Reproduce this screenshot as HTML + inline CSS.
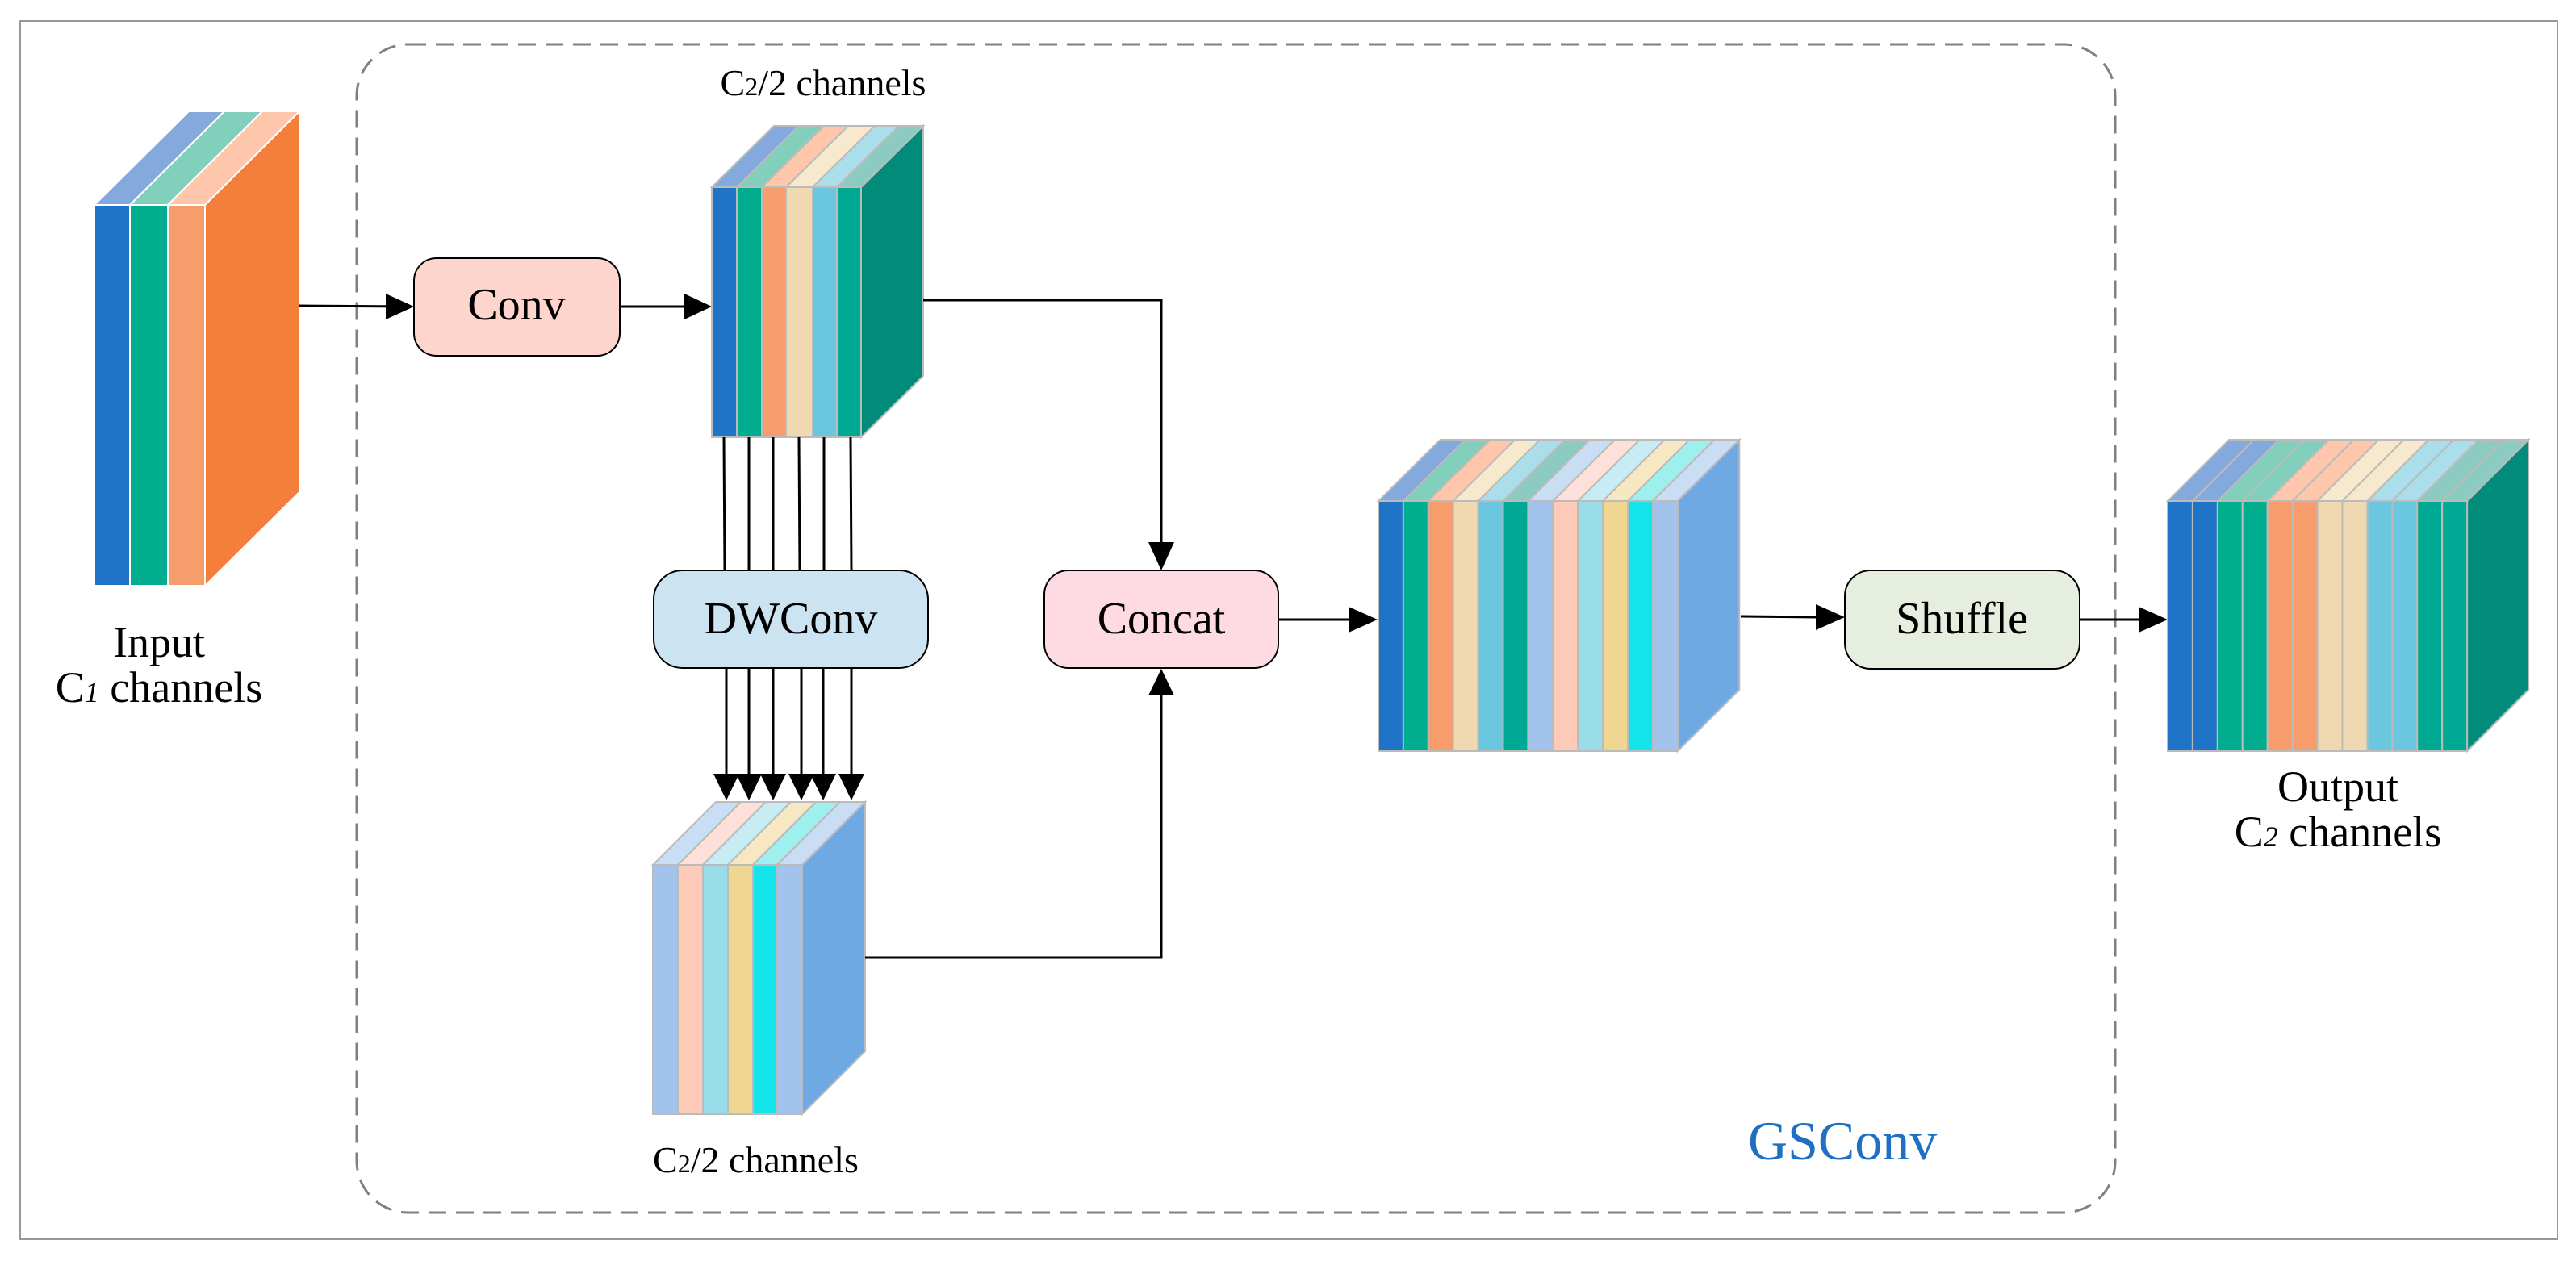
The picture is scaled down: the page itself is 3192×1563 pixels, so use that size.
<!DOCTYPE html>
<html><head><meta charset="utf-8"><style>
html,body{margin:0;padding:0;background:#fff}
svg{display:block}
svg text{font-family:"Liberation Serif","Times New Roman",serif !important;fill:#000}
</style></head><body>
<svg width="3192" height="1563" viewBox="0 0 3192 1563" xmlns="http://www.w3.org/2000/svg" font-family="Liberation Serif, serif">
<rect x="25" y="26" width="3144" height="1510" fill="none" stroke="#999" stroke-width="2"/>
<rect x="442" y="55" width="2179" height="1448" rx="64" fill="none" stroke="#808080" stroke-width="3" stroke-dasharray="22,12"/>

<!-- Input block -->
<g stroke="#fff" stroke-width="2">
<polygon points="254,254 371,138 371,610 254,726" fill="#f47f3a"/>
<polygon points="117,254 161,254 278,138 234,138" fill="#84a9dd"/>
<polygon points="161,254 208,254 325,138 278,138" fill="#82cfbb"/>
<polygon points="208,254 254,254 371,138 325,138" fill="#fec6ab"/>
<rect x="117" y="254" width="44" height="472" fill="#1f74c7"/>
<rect x="161" y="254" width="47" height="472" fill="#00ae8f"/>
<rect x="208" y="254" width="46" height="472" fill="#f79d6b"/>
</g>
<text x="197" y="814" font-size="54" text-anchor="middle" font-family="Liberation Serif, serif">Input</text>
<text x="197" y="870" font-size="54" text-anchor="middle" font-family="Liberation Serif, serif">C<tspan font-size="36" font-style="italic">1</tspan> channels</text>

<!-- Conv -->
<line x1="371" y1="379" x2="511" y2="380" stroke="#000" stroke-width="3"/>
<path d="M478,364 L513,380 L478,396 z"/>
<rect x="513" y="320" width="255" height="121" rx="28" fill="#fdd5cc" stroke="#000" stroke-width="2"/>
<text x="640" y="396" font-size="56" text-anchor="middle" font-family="Liberation Serif, serif">Conv</text>
<line x1="768" y1="380" x2="850" y2="380" stroke="#000" stroke-width="3"/>
<path d="M848,364 L882,380 L848,396 z"/>

<!-- Block2 -->
<text x="1020" y="118" font-size="46" text-anchor="middle" font-family="Liberation Serif, serif">C<tspan font-size="32">2</tspan>/2 channels</text>
<g stroke="#bbb" stroke-width="2">
<polygon points="1067,232 1144,156 1144,466 1067,542" fill="#008b7a"/>
<polygon points="882,232 913,232 990,156 959,156" fill="#84a9dd"/>
<polygon points="913,232 944,232 1021,156 990,156" fill="#82cfbb"/>
<polygon points="944,232 974,232 1051,156 1021,156" fill="#fec6ab"/>
<polygon points="974,232 1007,232 1084,156 1051,156" fill="#f6e9cd"/>
<polygon points="1007,232 1037,232 1114,156 1084,156" fill="#aadeea"/>
<polygon points="1037,232 1067,232 1144,156 1114,156" fill="#8ccbbf"/>
<rect x="882" y="232" width="31" height="310" fill="#1f74c7"/>
<rect x="913" y="232" width="31" height="310" fill="#00ae8f"/>
<rect x="944" y="232" width="30" height="310" fill="#f79d6b"/>
<rect x="974" y="232" width="33" height="310" fill="#f0d9b0"/>
<rect x="1007" y="232" width="30" height="310" fill="#6bc7df"/>
<rect x="1037" y="232" width="30" height="310" fill="#00a993"/>
</g>
<polyline points="1144,372 1439,372 1439,675" fill="none" stroke="#000" stroke-width="3"/>
<path d="M1423,672 L1439,707 L1455,672 z"/>

<!-- DWConv lines -->
<g stroke="#000" stroke-width="3">
<line x1="897" y1="542" x2="898" y2="707"/><line x1="928" y1="542" x2="928" y2="707"/>
<line x1="958" y1="542" x2="958" y2="707"/><line x1="990" y1="542" x2="991" y2="707"/>
<line x1="1021" y1="542" x2="1021" y2="707"/><line x1="1054" y1="542" x2="1055" y2="707"/>
<line x1="900" y1="828" x2="900" y2="962"/><line x1="928" y1="828" x2="928" y2="962"/>
<line x1="958" y1="828" x2="958" y2="962"/><line x1="993" y1="828" x2="993" y2="962"/>
<line x1="1020" y1="828" x2="1020" y2="962"/><line x1="1055" y1="828" x2="1055" y2="962"/>
</g>
<g>
<path d="M884,959 L900,992 L916,959 z"/><path d="M912,959 L928,992 L944,959 z"/>
<path d="M942,959 L958,992 L974,959 z"/><path d="M977,959 L993,992 L1009,959 z"/>
<path d="M1004,959 L1020,992 L1036,959 z"/><path d="M1039,959 L1055,992 L1071,959 z"/>
</g>
<rect x="810" y="707" width="340" height="121" rx="36" fill="#cce4f1" stroke="#000" stroke-width="2"/>
<text x="980" y="785" font-size="56" text-anchor="middle" font-family="Liberation Serif, serif">DWConv</text>

<!-- Block3 -->
<g stroke="#bbb" stroke-width="2">
<polygon points="994,1072 1072,994 1072,1303 994,1381" fill="#6fa9e4"/>
<polygon points="809,1072 840,1072 918,994 887,994" fill="#c9ddf3"/>
<polygon points="840,1072 871,1072 949,994 918,994" fill="#fee0da"/>
<polygon points="871,1072 902,1072 980,994 949,994" fill="#c7ecf3"/>
<polygon points="902,1072 933,1072 1011,994 980,994" fill="#f7e8c4"/>
<polygon points="933,1072 963,1072 1041,994 1011,994" fill="#9ef0ee"/>
<polygon points="963,1072 994,1072 1072,994 1041,994" fill="#c9ddf3"/>
<rect x="809" y="1072" width="31" height="309" fill="#a2c4ec"/>
<rect x="840" y="1072" width="31" height="309" fill="#fecbb8"/>
<rect x="871" y="1072" width="31" height="309" fill="#99dde9"/>
<rect x="902" y="1072" width="31" height="309" fill="#efd791"/>
<rect x="933" y="1072" width="30" height="309" fill="#13e3ea"/>
<rect x="963" y="1072" width="31" height="309" fill="#a2c4ec"/>
</g>
<text x="809" y="1453" font-size="46" font-family="Liberation Serif, serif">C<tspan font-size="32">2</tspan>/2 channels</text>
<polyline points="1072,1187 1439,1187 1439,860" fill="none" stroke="#000" stroke-width="3"/>
<path d="M1423,862 L1439,829 L1455,862 z"/>

<!-- Concat -->
<rect x="1294" y="707" width="290" height="121" rx="30" fill="#fedbe2" stroke="#000" stroke-width="2"/>
<text x="1439" y="785" font-size="56" text-anchor="middle" font-family="Liberation Serif, serif">Concat</text>
<line x1="1584" y1="768" x2="1674" y2="768" stroke="#000" stroke-width="3"/>
<path d="M1671,752 L1707,768 L1671,784 z"/>

<!-- Big block -->
<g stroke="#bbb" stroke-width="2" transform="translate(1708,0) scale(0.981,1) translate(-1708,0)">
<polygon points="2086,621 2164,545 2164,855 2086,931" fill="#6fa9e4"/>
<polygon points="1708,621 1739.5,621 1817.5,545 1786,545" fill="#84a9dd"/>
<polygon points="1739.5,621 1771,621 1849,545 1817.5,545" fill="#82cfbb"/>
<polygon points="1771,621 1802.5,621 1880.5,545 1849,545" fill="#fec6ab"/>
<polygon points="1802.5,621 1834,621 1912,545 1880.5,545" fill="#f6e9cd"/>
<polygon points="1834,621 1865.5,621 1943.5,545 1912,545" fill="#aadeea"/>
<polygon points="1865.5,621 1897,621 1975,545 1943.5,545" fill="#8ccbbf"/>
<polygon points="1897,621 1928.5,621 2006.5,545 1975,545" fill="#c9ddf3"/>
<polygon points="1928.5,621 1960,621 2038,545 2006.5,545" fill="#fee0da"/>
<polygon points="1960,621 1991.5,621 2069.5,545 2038,545" fill="#c7ecf3"/>
<polygon points="1991.5,621 2023,621 2101,545 2069.5,545" fill="#f7e8c4"/>
<polygon points="2023,621 2054.5,621 2132.5,545 2101,545" fill="#9ef0ee"/>
<polygon points="2054.5,621 2086,621 2164,545 2132.5,545" fill="#c9ddf3"/>
<rect x="1708" y="621" width="31.5" height="310" fill="#1f74c7"/>
<rect x="1739.5" y="621" width="31.5" height="310" fill="#00ae8f"/>
<rect x="1771" y="621" width="31.5" height="310" fill="#f79d6b"/>
<rect x="1802.5" y="621" width="31.5" height="310" fill="#f0d9b0"/>
<rect x="1834" y="621" width="31.5" height="310" fill="#6bc7df"/>
<rect x="1865.5" y="621" width="31.5" height="310" fill="#00a993"/>
<rect x="1897" y="621" width="31.5" height="310" fill="#a2c4ec"/>
<rect x="1928.5" y="621" width="31.5" height="310" fill="#fecbb8"/>
<rect x="1960" y="621" width="31.5" height="310" fill="#99dde9"/>
<rect x="1991.5" y="621" width="31.5" height="310" fill="#efd791"/>
<rect x="2023" y="621" width="31.5" height="310" fill="#13e3ea"/>
<rect x="2054.5" y="621" width="31.5" height="310" fill="#a2c4ec"/>
</g>
<line x1="2157" y1="764" x2="2253" y2="765" stroke="#000" stroke-width="3"/>
<path d="M2250,749 L2286,765 L2250,781 z"/>

<!-- Shuffle -->
<rect x="2286" y="707" width="291" height="122" rx="32" fill="#e6eedf" stroke="#000" stroke-width="2"/>
<text x="2431" y="785" font-size="56" text-anchor="middle" font-family="Liberation Serif, serif">Shuffle</text>
<line x1="2577" y1="768" x2="2653" y2="768" stroke="#000" stroke-width="3"/>
<path d="M2650,752 L2686,768 L2650,784 z"/>

<!-- Output block -->
<g stroke="#bbb" stroke-width="2" transform="translate(2686,0) scale(0.987,1) translate(-2702,0)">
<polygon points="3078,621 3155,545 3155,855 3078,931" fill="#008b7a"/>
<polygon points="2702,621 2733.3,621 2810.3,545 2779,545" fill="#84a9dd"/>
<polygon points="2733.3,621 2764.7,621 2841.7,545 2810.3,545" fill="#84a9dd"/>
<polygon points="2764.7,621 2796,621 2873,545 2841.7,545" fill="#82cfbb"/>
<polygon points="2796,621 2827.3,621 2904.3,545 2873,545" fill="#82cfbb"/>
<polygon points="2827.3,621 2858.7,621 2935.7,545 2904.3,545" fill="#fec6ab"/>
<polygon points="2858.7,621 2890,621 2967,545 2935.7,545" fill="#fec6ab"/>
<polygon points="2890,621 2921.3,621 2998.3,545 2967,545" fill="#f6e9cd"/>
<polygon points="2921.3,621 2952.7,621 3029.7,545 2998.3,545" fill="#f6e9cd"/>
<polygon points="2952.7,621 2984,621 3061,545 3029.7,545" fill="#aadeea"/>
<polygon points="2984,621 3015.3,621 3092.3,545 3061,545" fill="#aadeea"/>
<polygon points="3015.3,621 3046.7,621 3123.7,545 3092.3,545" fill="#8ccbbf"/>
<polygon points="3046.7,621 3078,621 3155,545 3123.7,545" fill="#8ccbbf"/>
<rect x="2702" y="621" width="31.3" height="310" fill="#1f74c7"/>
<rect x="2733.3" y="621" width="31.3" height="310" fill="#1f74c7"/>
<rect x="2764.7" y="621" width="31.3" height="310" fill="#00ae8f"/>
<rect x="2796" y="621" width="31.3" height="310" fill="#00ae8f"/>
<rect x="2827.3" y="621" width="31.3" height="310" fill="#f79d6b"/>
<rect x="2858.7" y="621" width="31.3" height="310" fill="#f79d6b"/>
<rect x="2890" y="621" width="31.3" height="310" fill="#f0d9b0"/>
<rect x="2921.3" y="621" width="31.3" height="310" fill="#f0d9b0"/>
<rect x="2952.7" y="621" width="31.3" height="310" fill="#6bc7df"/>
<rect x="2984" y="621" width="31.3" height="310" fill="#6bc7df"/>
<rect x="3015.3" y="621" width="31.3" height="310" fill="#00a993"/>
<rect x="3046.7" y="621" width="31.3" height="310" fill="#00a993"/>
</g>
<text x="2897" y="993" font-size="54" text-anchor="middle" font-family="Liberation Serif, serif">Output</text>
<text x="2897" y="1049" font-size="54" text-anchor="middle" font-family="Liberation Serif, serif">C<tspan font-size="36" font-style="italic">2</tspan> channels</text>

<text x="2166" y="1437" font-size="68" font-family="Liberation Serif, serif" style="fill:#1f6fc5">GSConv</text>
</svg>
</body></html>
